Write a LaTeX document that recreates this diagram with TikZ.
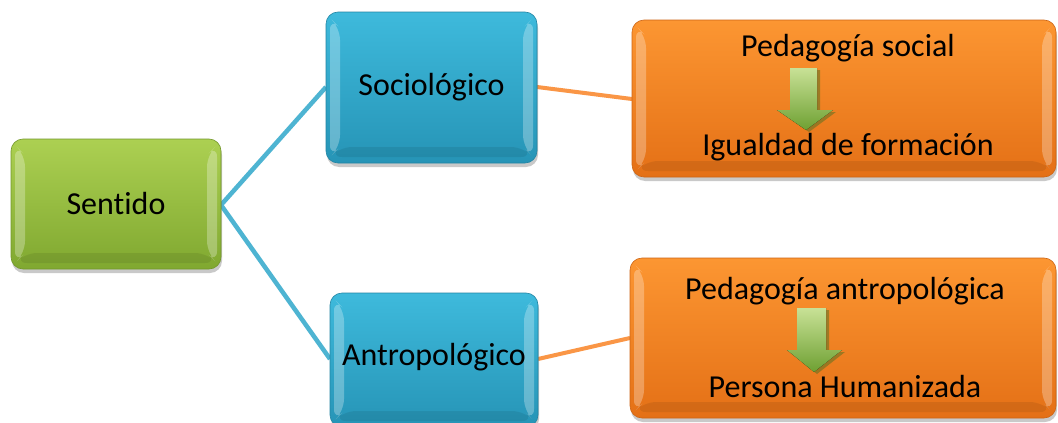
\documentclass[tikz,border=0pt]{standalone}
\usepackage{fontspec}
\setmainfont{Carlito}[Ligatures=NoCommon]
\usetikzlibrary{calc,shadows,shapes.arrows}

\definecolor{grnTop}{RGB}{172,208,82}
\definecolor{grnBot}{RGB}{128,168,48}
\definecolor{bluTop}{RGB}{62,186,220}
\definecolor{bluBot}{RGB}{38,148,182}
\definecolor{orgTop}{RGB}{252,150,50}
\definecolor{orgBot}{RGB}{228,112,22}
\definecolor{lnBlue}{RGB}{78,180,210}
\definecolor{lnOrange}{RGB}{250,150,70}
\definecolor{arTop}{RGB}{200,225,150}
\definecolor{arBot}{RGB}{110,160,50}

\tikzset{
  bevelbox/.style={
    rounded corners=12pt, inner sep=0pt, font=\fontsize{32}{36}\selectfont,
    drop shadow={shadow xshift=1pt, shadow yshift=-4pt, opacity=0.35, fill=black!60},
    path picture={
      \fill[white, opacity=0.28]
        ($(path picture bounding box.north west)+(4,6)$) --
        ($(path picture bounding box.south west)+(4,-6)$) --
        ($(path picture bounding box.south west)+(14,-16)$) --
        ($(path picture bounding box.north west)+(14,16)$) -- cycle;
      \fill[white, opacity=0.28]
        ($(path picture bounding box.north east)+(-4,6)$) --
        ($(path picture bounding box.south east)+(-4,-6)$) --
        ($(path picture bounding box.south east)+(-14,-16)$) --
        ($(path picture bounding box.north east)+(-14,16)$) -- cycle;
      \fill[black, opacity=0.08]
        ($(path picture bounding box.south west)+(4,-6)$) --
        ($(path picture bounding box.south east)+(-4,-6)$) --
        ($(path picture bounding box.south east)+(-14,-16)$) --
        ($(path picture bounding box.south west)+(14,-16)$) -- cycle;
    }},
  greenbox/.style={bevelbox, top color=grnTop, bottom color=grnBot, draw=grnBot!90!black, line width=0.6pt},
  bluebox/.style={bevelbox, top color=bluTop, bottom color=bluBot, draw=bluBot!90!black, line width=0.6pt},
  orangebox/.style={bevelbox, top color=orgTop, bottom color=orgBot, draw=orgBot!90!black, line width=0.6pt},
  boxtext/.style={font=\fontsize{32}{36}\selectfont, inner sep=0pt},
  blueline/.style={draw=lnBlue, line width=4.5pt},
  orangeline/.style={draw=lnOrange, line width=4pt},
  downarrow/.style={top color=arTop, bottom color=arBot, draw=none,
    drop shadow={shadow xshift=3pt, shadow yshift=-2pt, opacity=0.5, fill=arBot!70!black}}
}

\begin{document}
\begin{tikzpicture}[x=1pt, y=-1pt]
  \path[use as bounding box] (0,0) rectangle (1058,423);
  \clip (0,0) rectangle (1058,423);
  \fill[white] (0,0) rectangle (1058,423);

  % connectors first, so the boxes sit on top of them
  \coordinate (pSen) at (221,205);
  \coordinate (pSoc) at (326,87);
  \coordinate (pAnt) at (330,359);
  \coordinate (pSocR) at (537,87);
  \coordinate (pAntR) at (538,359);
  \coordinate (pOrgA) at (632,99);
  \coordinate (pOrgB) at (630,338);
  \draw[blueline] (pSen) -- (pSoc);
  \draw[blueline] (pSen) -- (pAnt);
  \draw[orangeline] (pSocR) -- (pOrgA);
  \draw[orangeline] (pAntR) -- (pOrgB);

  % boxes
  \node[greenbox, minimum width=210pt, minimum height=130pt] (sen) at (116,204) {Sentido};
  \node[bluebox, minimum width=211pt, minimum height=151pt] (soc) at (431.5,87.5) {Sociológico};
  \node[bluebox, minimum width=208pt, minimum height=134pt] (ant) at (434,360) {};
  \node[boxtext] (antT) at (434,357) {Antropológico};
  \node[orangebox, minimum width=424pt, minimum height=157pt] (orgA) at (844,98.5) {};
  \node[orangebox, minimum width=426pt, minimum height=160pt] (orgB) at (843,338) {};

  % texts of the orange boxes
  \node[boxtext] (pedS) at (848,48) {Pedagogía social};
  \node[boxtext] (igu) at (848,147) {Igualdad de formación};
  \node[boxtext] (pedA) at (845,291) {Pedagogía antropológica};
  \node[boxtext] (per) at (845,387) {Persona Humanizada};

  % green block arrows
  \fill[downarrow] (790,68) -- (817,68) -- (817,110) -- (833,110) -- (806,130) -- (777,110) -- (790,110) -- cycle;
  \fill[downarrow] (797,308) -- (826,308) -- (826,350) -- (842,350) -- (814,372) -- (787,350) -- (797,350) -- cycle;
\end{tikzpicture}
\end{document}
